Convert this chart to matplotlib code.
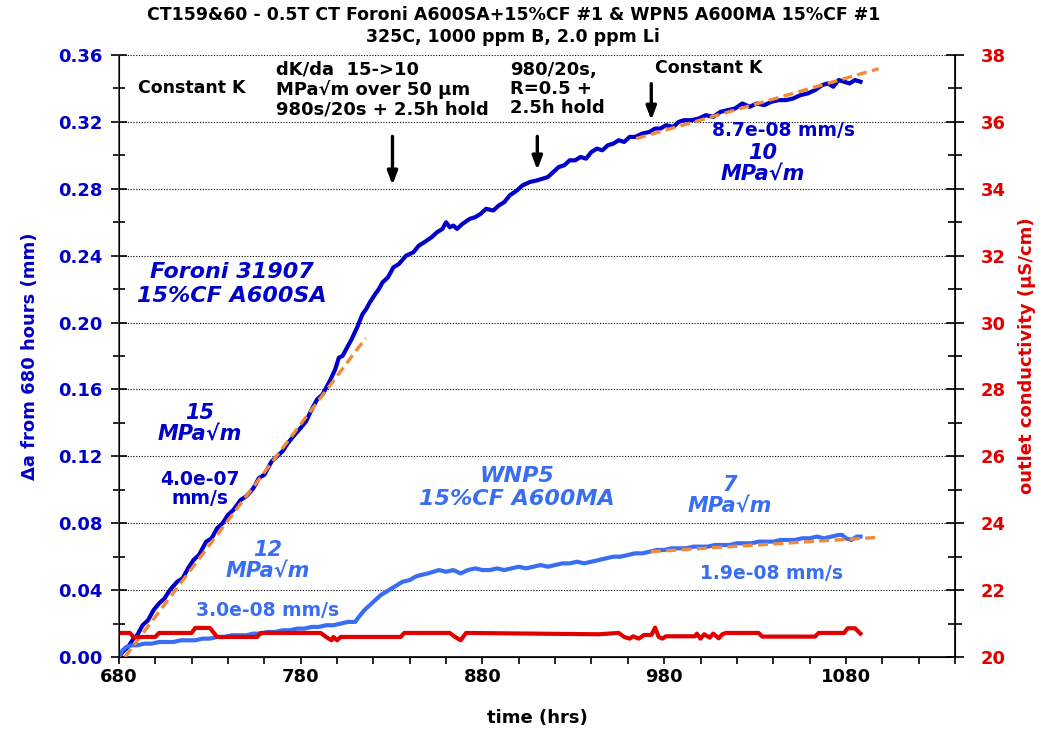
import matplotlib
matplotlib.use("Agg")
import matplotlib.pyplot as plt
from matplotlib.ticker import MultipleLocator
import numpy as np

plt.rcParams['font.family'] = ['DejaVu Sans']
plt.rcParams['font.weight'] = 'bold'

DARK = '#0000C8'
LIGHT = '#3A6EF2'
RED = '#E00000'
ORANGE = '#F28A3A'

# Foroni 31907 15%CF A600SA crack growth
foroni_t = [680, 682, 685, 688, 690, 693, 696, 699, 702, 705, 708, 712, 715, 718, 721, 724,
            728, 731, 734, 737, 740, 743, 747, 750, 754, 757, 760, 764, 767, 770, 773, 776,
            780, 783, 786, 789, 792, 796, 799, 801, 803, 805, 808, 811, 814, 816, 818, 821,
            823, 825, 828, 831, 834, 838, 842, 845, 848, 852, 855, 858, 860, 862, 864, 866,
            869, 873, 876, 879, 882, 886, 889, 892, 895, 899, 902, 906, 910, 913, 916, 919,
            922, 925, 928, 931, 934, 937, 940, 943, 946, 949, 952, 955, 958, 961, 964, 968,
            972, 975, 978, 981, 985, 988, 991, 995, 999, 1003, 1007, 1011, 1015, 1019, 1023,
            1027, 1031, 1035, 1039, 1043, 1047, 1051, 1055, 1059, 1063, 1067, 1070, 1073,
            1076, 1079, 1082, 1085, 1088]
foroni_da = [0.000, 0.003, 0.006, 0.011, 0.013, 0.019, 0.022, 0.028, 0.032, 0.035, 0.040, 0.045,
             0.047, 0.053, 0.058, 0.061, 0.069, 0.071, 0.077, 0.080, 0.085, 0.088, 0.094, 0.096,
             0.101, 0.107, 0.109, 0.117, 0.120, 0.123, 0.128, 0.132, 0.137, 0.141, 0.148, 0.154,
             0.157, 0.165, 0.172, 0.179, 0.180, 0.184, 0.190, 0.197, 0.205, 0.208, 0.212, 0.217,
             0.220, 0.224, 0.227, 0.233, 0.235, 0.240, 0.242, 0.246, 0.248, 0.251, 0.254, 0.256,
             0.260, 0.257, 0.258, 0.256, 0.259, 0.262, 0.263, 0.265, 0.268, 0.267, 0.270, 0.272,
             0.276, 0.279, 0.282, 0.284, 0.285, 0.286, 0.287, 0.290, 0.293, 0.294, 0.297, 0.297,
             0.299, 0.298, 0.302, 0.304, 0.303, 0.306, 0.307, 0.309, 0.308, 0.311, 0.311, 0.313,
             0.314, 0.316, 0.316, 0.318, 0.317, 0.320, 0.321, 0.321, 0.322, 0.324, 0.323, 0.326,
             0.327, 0.328, 0.331, 0.329, 0.331, 0.330, 0.332, 0.333, 0.333, 0.334, 0.336, 0.337,
             0.339, 0.342, 0.343, 0.341, 0.345, 0.344, 0.343, 0.345, 0.344]

# WNP5 15%CF A600MA crack growth
wnp5_t = [680, 682, 684, 687, 690, 694, 698, 702, 706, 710, 714, 718, 722, 726, 730, 734, 738,
          742, 746, 750, 754, 758, 762, 766, 770, 774, 778, 782, 786, 790, 794, 798, 802, 806,
          810, 812, 815, 818, 821, 824, 827, 830, 833, 836, 840, 843, 846, 850, 853, 856, 860,
          864, 868, 872, 876, 880, 884, 888, 892, 896, 900, 904, 908, 912, 916, 920, 924, 928,
          932, 936, 940, 944, 948, 952, 956, 960, 964, 968, 972, 976, 980, 984, 988, 992, 996,
          1000, 1004, 1008, 1012, 1016, 1020, 1024, 1028, 1032, 1036, 1040, 1044, 1048, 1052,
          1056, 1060, 1064, 1068, 1072, 1076, 1078, 1080, 1083, 1086, 1088]
wnp5_da = [0.000, 0.004, 0.006, 0.007, 0.007, 0.008, 0.008, 0.009, 0.009, 0.009, 0.010, 0.010,
           0.010, 0.011, 0.011, 0.012, 0.012, 0.013, 0.013, 0.013, 0.014, 0.014, 0.015, 0.015,
           0.016, 0.016, 0.017, 0.017, 0.018, 0.018, 0.019, 0.019, 0.020, 0.021, 0.021, 0.024,
           0.028, 0.031, 0.034, 0.037, 0.039, 0.041, 0.043, 0.045, 0.046, 0.048, 0.049, 0.050,
           0.051, 0.052, 0.051, 0.052, 0.050, 0.052, 0.053, 0.052, 0.052, 0.053, 0.052, 0.053,
           0.054, 0.053, 0.054, 0.055, 0.054, 0.055, 0.056, 0.056, 0.057, 0.056, 0.057, 0.058,
           0.059, 0.060, 0.060, 0.061, 0.062, 0.062, 0.063, 0.064, 0.064, 0.065, 0.065, 0.065,
           0.066, 0.066, 0.066, 0.067, 0.067, 0.067, 0.068, 0.068, 0.068, 0.069, 0.069, 0.069,
           0.070, 0.070, 0.070, 0.071, 0.071, 0.072, 0.071, 0.072, 0.073, 0.073, 0.071, 0.070,
           0.072, 0.072]

# outlet conductivity (uS/cm)
cond_t = [680, 686, 688, 700, 702, 720, 722, 730, 734, 756, 758, 791, 794, 797, 798, 800, 802,
          835, 837, 862, 865, 868, 871, 944, 955, 958, 961, 963, 966, 969, 973, 975, 977, 979,
          981, 997, 998, 1000, 1002, 1005, 1007, 1010, 1012, 1014, 1032, 1034, 1063, 1065, 1079,
          1081, 1085, 1088]
cond = [20.72, 20.72, 20.60, 20.60, 20.72, 20.72, 20.87, 20.87, 20.60, 20.60, 20.72, 20.72, 20.60,
        20.50, 20.60, 20.50, 20.60, 20.60, 20.72, 20.72, 20.60, 20.50, 20.72, 20.68, 20.72, 20.60,
        20.55, 20.62, 20.55, 20.66, 20.66, 20.88, 20.60, 20.55, 20.62, 20.62, 20.70, 20.55, 20.68,
        20.58, 20.70, 20.56, 20.68, 20.72, 20.72, 20.61, 20.61, 20.72, 20.72, 20.86, 20.86, 20.70]

# linear fits: (start time, start da, end time, rate mm/s)
fit_foroni_15 = (683.3, 0.0, 815.7, 4.0e-07)
fit_foroni_10 = (964.6, 0.310, 1098.0, 8.7e-08)
fit_wnp5_7 = (972.7, 0.063, 1097.0, 1.9e-08)

time_ticks = [680, 780, 880, 980, 1080]

fig = plt.figure(figsize=(10.39, 7.31), dpi=100)
ax = fig.add_axes([0.1145, 0.1012, 0.8046, 0.8236])
ax2 = ax.twinx()

ax.plot(foroni_t, foroni_da, color=DARK, lw=3.0, zorder=3)
ax.plot(wnp5_t, wnp5_da, color=LIGHT, lw=3.0, zorder=3)
for t0, a0, t1, rate in (fit_foroni_15, fit_foroni_10, fit_wnp5_7):
    ax.plot([t0, t1], [a0, a0 + rate * 3600 * (t1 - t0)], color=ORANGE, lw=2.4,
            dashes=(3, 1.6), zorder=4)
ax2.plot(cond_t, cond, color=RED, lw=3.0)

ax.set_xlim(680, 1140)
ax.set_ylim(0, 0.36)
ax2.set_ylim(20, 38)
ax.set_xticks(time_ticks)
ax.set_xticks(np.arange(680, 1141, 20), minor=True)
ax.yaxis.set_major_locator(MultipleLocator(0.04))
ax.yaxis.set_minor_locator(MultipleLocator(0.02))
ax2.yaxis.set_major_locator(MultipleLocator(2))
ax2.yaxis.set_minor_locator(MultipleLocator(1))
ax.yaxis.set_major_formatter(lambda v, p: f'{v:.2f}')

ax.grid(axis='y', which='major', color='black', lw=0.8, linestyle=(0, (1, 1.5)))
ax.set_axisbelow(True)
for a in (ax, ax2):
    a.spines['top'].set_visible(False)
ax.spines['left'].set_color('#444444')
ax.spines['left'].set_linewidth(1.2)
ax2.spines['right'].set_linewidth(1.2)
ax.spines['bottom'].set_linewidth(1.2)

ax.tick_params(axis='x', which='both', direction='out', length=5, width=1.2,
               labelsize=13, pad=3, labelcolor='black')
ax.tick_params(axis='y', which='major', direction='inout', length=12, width=1.2,
               labelsize=13, pad=6, labelcolor=DARK)
ax.tick_params(axis='y', which='minor', direction='inout', length=9, width=1.2)
ax2.tick_params(axis='y', which='major', direction='inout', length=13, width=1.2,
                labelsize=13, pad=12, labelcolor=RED)
ax2.tick_params(axis='y', which='minor', direction='inout', length=10, width=1.2)

ax.set_xlabel('time (hrs)', fontsize=13, fontweight='bold')
ax.xaxis.set_label_coords(0.5, -0.087)
ax.set_ylabel('\u0394a from 680 hours (mm)', fontsize=13, fontweight='bold', color=DARK)
ax.yaxis.set_label_coords(-0.096, 0.5)
ax2.set_ylabel('outlet conductivity (\u03bcS/cm)', fontsize=13, fontweight='bold', color=RED)
ax2.yaxis.set_label_coords(1.075, 0.5)

fig.text(0.494, 0.979, 'CT159&60 - 0.5T CT Foroni A600SA+15%CF #1 & WPN5 A600MA 15%CF #1',
         ha='center', va='center', fontsize=12.5, fontweight='bold')
fig.text(0.494, 0.949, '325C, 1000 ppm B, 2.0 ppm Li',
         ha='center', va='center', fontsize=12.5, fontweight='bold')

# test phase notes and arrows
ax.text(690.5, 0.340, 'Constant K', fontsize=12.5, va='center')
ax.text(766.4, 0.3565, 'dK/da  15->10\nMPa\u221am over 50 \u03bcm\n980s/20s + 2.5h hold',
        fontsize=13, va='top', linespacing=1.08)
ax.text(895.1, 0.3565, '980/20s,\nR=0.5 +\n2.5h hold', fontsize=13, va='top', linespacing=1.08)
ax.text(974.9, 0.352, 'Constant K', fontsize=12.5, va='center')
arrow = dict(arrowstyle='-|>,head_width=0.3,head_length=0.8', color='black', lw=2.4)
ax.annotate('', xy=(830.5, 0.2806), xytext=(830.5, 0.313), arrowprops=arrow)
ax.annotate('', xy=(910.2, 0.2896), xytext=(910.2, 0.313), arrowprops=arrow)
ax.annotate('', xy=(972.9, 0.3194), xytext=(972.9, 0.3445), arrowprops=arrow)

# series and rate labels
ax.text(742.2, 0.223, 'Foroni 31907\n15%CF A600SA', color=DARK, fontsize=16, style='italic',
        ha='center', va='center', linespacing=1.2)
ax.text(724.6, 0.1395, '15\nMPa\u221am', color=DARK, fontsize=15, style='italic',
        ha='center', va='center', linespacing=1.05)
ax.text(724.6, 0.1005, '4.0e-07\nmm/s', color=DARK, fontsize=13.5,
        ha='center', va='center', linespacing=1.05)
ax.text(1045.4, 0.315, '8.7e-08 mm/s', color=DARK, fontsize=13.5, ha='center', va='center')
ax.text(1034.4, 0.295, '10\nMPa\u221am', color=DARK, fontsize=15, style='italic',
        ha='center', va='center', linespacing=1.05)
ax.text(899.0, 0.1013, 'WNP5\n15%CF A600MA', color=LIGHT, fontsize=16, style='italic',
        ha='center', va='center', linespacing=1.2)
ax.text(1016.2, 0.0965, '7\nMPa\u221am', color=LIGHT, fontsize=15, style='italic',
        ha='center', va='center', linespacing=1.05)
ax.text(762.0, 0.0575, '12\nMPa\u221am', color=LIGHT, fontsize=15, style='italic',
        ha='center', va='center', linespacing=1.05)
ax.text(762.0, 0.0281, '3.0e-08 mm/s', color=LIGHT, fontsize=13.5, ha='center', va='center')
ax.text(1039.3, 0.0502, '1.9e-08 mm/s', color=LIGHT, fontsize=13.5, ha='center', va='center')

fig.savefig('out.png', dpi=100)
